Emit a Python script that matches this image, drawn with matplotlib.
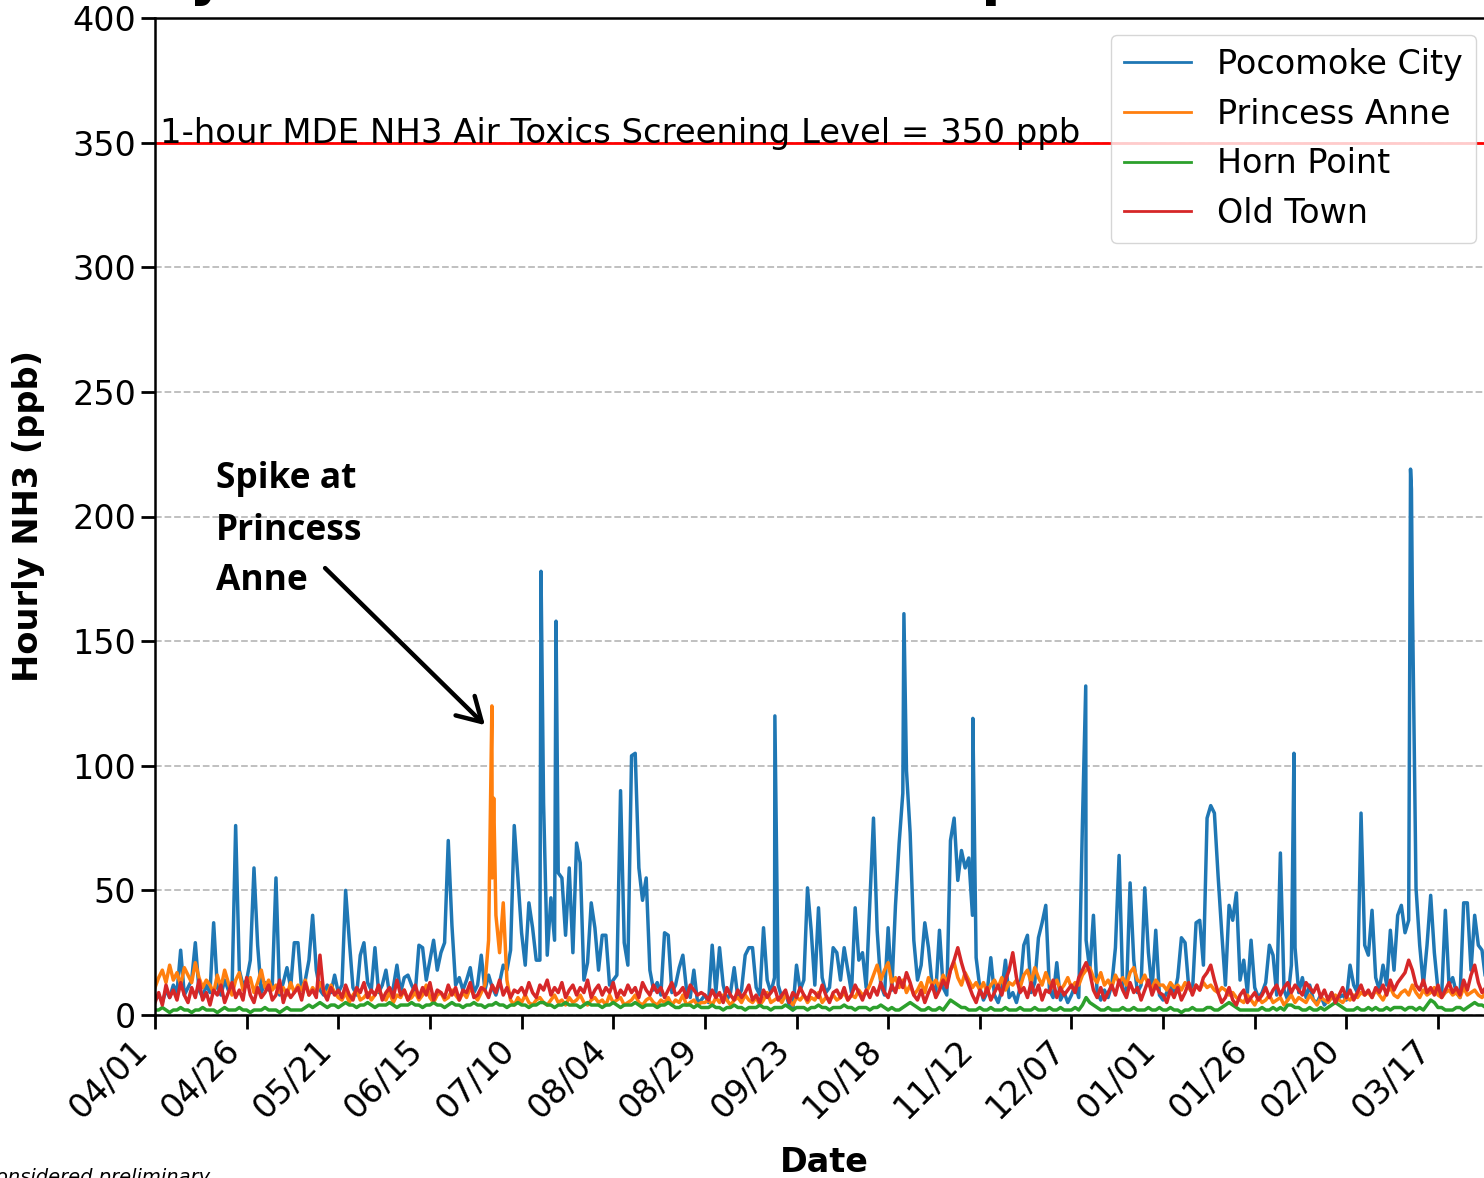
import numpy as np
import matplotlib
matplotlib.use("Agg")
import matplotlib.pyplot as plt

# ---- data: hourly NH3 (ppb), one value per day starting 04/01 ----
date_labels = ["04/01", "04/26", "05/21", "06/15", "07/10", "08/04", "08/29",
               "09/23", "10/18", "11/12", "12/07", "01/01", "01/26", "02/20", "03/17"]
yticks = [0, 50, 100, 150, 200, 250, 300, 350, 400]
screening_level = 350

pocomoke_daily = [
    6, 8, 5, 10, 7, 12, 9, 26, 8, 11, 14, 29, 10, 7, 12, 9, 37, 11, 8, 14, 10, 9, 76, 18, 12,
    14, 22, 59, 28, 9, 13, 10, 12, 55, 8, 13, 19, 11, 29, 29, 10, 14, 22, 40, 18, 10, 8, 12, 9, 16,
    9, 12, 50, 30, 11, 8, 24, 29, 13, 10, 27, 9, 12, 18, 8, 11, 20, 9, 15, 16, 12, 9, 28, 27, 14,
    22, 30, 18, 25, 29, 70, 36, 12, 15, 10, 14, 19, 9, 12, 24, 10, 16, 11, 8, 13, 20, 18, 26, 76, 55,
    33, 20, 45, 35, 22, 22, 85, 24, 47, 30, 57, 55, 32, 59, 25, 69, 61, 14, 21, 45, 35, 18, 32, 32, 12,
    14, 16, 90, 29, 20, 104, 105, 59, 46, 55, 18, 10, 13, 8, 33, 32, 9, 12, 19, 24, 10, 7, 18, 5, 6,
    8, 5, 28, 9, 27, 12, 6, 9, 19, 7, 10, 24, 27, 27, 11, 8, 35, 14, 9, 15, 12, 7, 9, 4, 2,
    20, 10, 14, 51, 34, 12, 43, 15, 9, 11, 27, 25, 14, 27, 18, 9, 43, 22, 25, 11, 45, 79, 34, 12, 8,
    35, 10, 44, 69, 89, 98, 73, 30, 14, 20, 37, 27, 12, 9, 34, 11, 8, 70, 79, 54, 66, 59, 63, 40, 23,
    11, 6, 9, 23, 8, 5, 10, 22, 7, 9, 5, 11, 28, 32, 9, 13, 31, 37, 44, 10, 7, 21, 6, 9, 5,
    8, 12, 7, 77, 30, 18, 40, 9, 6, 10, 7, 12, 27, 64, 11, 8, 53, 22, 9, 12, 51, 25, 10, 34, 8,
    6, 9, 12, 8, 15, 31, 29, 11, 9, 37, 38, 20, 79, 84, 81, 56, 33, 12, 44, 38, 49, 14, 22, 9, 30,
    11, 7, 9, 13, 28, 24, 8, 65, 10, 6, 20, 27, 9, 15, 7, 12, 6, 5, 8, 4, 6, 9, 5, 7, 8,
    6, 20, 12, 9, 81, 28, 24, 42, 15, 10, 20, 12, 34, 18, 40, 44, 33, 38, 168, 51, 28, 12, 28, 48, 25,
    10, 8, 42, 12, 15, 9, 7, 45, 45, 18, 40, 28, 26, 14, 20,
]
# short single-hour peaks (day offset, ppb)
pocomoke_peak_day = [105.3, 109.4, 169.1, 204.3, 223.1, 253.9, 310.7, 342.5, 342.75]
pocomoke_peak_ppb = [178, 158, 120, 161, 119, 132, 105, 219, 211]

princess_anne_daily = [
    11, 15, 18, 13, 20, 14, 17, 12, 19, 16, 13, 21, 15, 11, 14,
    12, 9, 16, 11, 18, 13, 8, 14, 17, 10, 12, 15, 9, 13, 18, 11, 14, 10, 12, 9,
    11, 8, 13, 9, 12, 10, 14, 8, 11, 9, 13, 10, 8, 12, 9,
    7, 6, 9, 5, 8, 10, 6, 7, 9, 6, 8, 11, 7, 6, 9, 5, 8, 7, 10, 6,
    7, 9, 6, 8, 12, 7, 5, 8, 9, 6, 7, 10, 8, 6, 9, 7, 11, 8, 6, 9,
    12, 30, 55, 40, 25, 45, 14,
    6, 4, 7, 5, 8, 5, 4, 6, 7, 5, 4, 6, 8, 5, 6, 4, 7, 5, 6, 8,
    5, 4, 6, 7, 5, 6, 4, 8, 5, 6, 7, 4, 5, 6, 8, 5, 4, 6, 7, 5,
    4, 6, 5, 7, 4, 6, 5, 8, 4, 5, 6, 4, 5,
    5, 6, 4, 7, 5, 8, 6, 4, 6, 7, 5, 8, 6, 5, 7, 4, 6, 9, 5, 6,
    7, 5, 8, 6, 4, 7, 6, 8, 5, 7, 6, 9, 5, 7, 6, 8, 6, 7, 9, 6, 8, 7, 10, 8, 9,
    12, 16, 20, 14, 18, 21, 13, 15, 11, 14, 9, 12, 8, 10, 13, 9, 15, 12, 14, 11,
    16, 13, 18, 21, 15, 12, 17, 14, 11, 13, 10, 13, 9, 12, 14, 11, 15, 10, 13, 12,
    14, 11, 16, 18, 13, 19, 15, 12, 17, 13, 11, 14, 10, 12, 15, 11, 13, 12, 16, 18,
    19, 15, 13, 17, 12, 14, 11, 16, 13, 15, 12, 17, 19, 14, 13, 16, 12, 11, 14, 12,
    12, 10, 13, 11, 12, 10, 13, 11, 9, 12, 10, 13, 11, 12, 10, 9, 11, 10, 8, 9,
    7, 6, 5, 8, 6, 4, 7, 5, 6, 8, 5, 6, 7, 4, 6, 8, 5, 7, 6, 5,
    8, 6, 4, 7, 6, 5, 7, 8, 6, 5, 7, 6, 8, 7, 9,
    8, 9, 7, 10, 8, 6, 9, 11, 8, 7, 9, 10, 8, 12, 9, 7, 10, 8, 9, 11,
    8, 7, 9, 10, 8, 9, 7, 11, 8, 9, 10, 8, 7, 9, 8,
]
princess_anne_peak_day = [91.9, 92.4]
princess_anne_peak_ppb = [124, 87]

horn_point_daily = [
    2, 2, 3, 2, 1, 2, 2, 3, 2, 2, 1, 2, 2, 3, 2, 2, 2, 1, 2, 3,
    2, 2, 2, 3, 2, 2, 1, 2, 2, 2, 3, 2, 2, 2, 1, 2, 3, 2, 2, 2, 2, 3,
    4, 3, 4, 5, 4, 3, 4, 4, 3, 4, 5, 4, 4, 3, 4, 4, 5, 4, 3, 4,
    4, 4, 5, 4, 3, 4, 4, 4, 5, 4, 4, 3, 4, 4, 5, 4, 4, 3, 4, 5,
    4, 4, 3, 4, 4, 5, 4, 4, 3, 4, 4, 5, 4,
    4, 3, 4, 4, 5, 4, 4, 3, 4, 4, 5, 5, 4, 4, 3, 4, 4, 5, 4, 4,
    4, 3, 4, 5, 4, 4, 4, 3, 4, 4, 5, 4, 3, 4, 4, 4, 5, 4, 3, 4,
    4, 4, 3, 4, 4, 5, 4, 3, 3, 4, 4, 4, 3, 4, 3,
    3, 3, 4, 3, 3, 2, 3, 3, 4, 3, 3, 2, 3, 3, 3, 4, 3, 3, 2, 3,
    3, 3, 4, 3, 2, 3, 3, 3, 2, 3, 3, 4, 3, 3, 2, 3, 3, 3, 4, 3,
    3, 2, 3, 3, 3, 2, 3, 3, 4, 3,
    2, 3, 2, 2, 3, 4, 5, 4, 3, 2, 2, 3, 2, 2, 3, 2, 4, 6, 5, 4, 3, 3, 2, 2,
    2, 3, 2, 2, 3, 2, 2, 2, 3, 2, 2, 2, 3, 2, 2, 2, 3, 2, 2, 2,
    3, 2, 2, 3, 2, 2, 2, 3, 2, 4,
    7, 5, 4, 3, 2, 2, 3, 2, 2, 2, 3, 2, 2, 3, 2, 2, 2, 3, 2, 2, 3,
    2, 2, 3, 2, 2, 1, 2, 2, 3, 2, 2, 2, 3, 3, 2, 2, 3,
    4, 5, 4, 3, 2, 2, 2, 2,
    2, 2, 3, 2, 2, 3, 2, 3, 2, 4, 4, 3, 3, 2, 2, 3, 2, 2, 3, 2,
    3, 4, 5, 4, 3, 2, 2, 2, 3, 2, 2, 3, 2, 3, 2, 2, 3, 2, 3, 3,
    3, 2, 3, 3, 2, 3, 2, 4, 6, 5, 3, 3, 2, 2, 2, 3, 3, 2, 3, 4, 5, 4, 4, 3, 3,
]

old_town_daily = [
    5, 9, 4, 12, 7, 10, 6, 13, 8, 5, 11, 7, 14, 6, 9, 4, 10, 8, 12, 5,
    9, 13, 7, 10, 6, 15, 8, 5, 11, 7, 9, 12, 6, 8, 14, 5, 10, 7, 9, 11,
    6, 13, 8, 10, 7, 24, 9, 6, 11, 8,
    10, 7, 12, 8, 6, 11, 9, 13, 7, 10, 8, 12, 6, 9, 11, 7, 14, 8, 10, 6,
    9, 12, 7, 11, 8, 13, 6, 10, 9, 7, 12, 8, 11, 6, 10, 9, 13, 7, 8, 11,
    10, 7, 12, 9, 14, 8, 11, 7, 10, 9,
    11, 8, 13, 9, 7, 12, 10, 14, 8, 11, 9, 13, 7, 10, 12, 8, 11, 9, 14, 7,
    10, 12, 8, 11, 9, 13, 7, 10, 8, 12, 9, 11, 7, 13, 10, 8, 12, 9, 11, 7,
    10, 13, 8, 9, 11, 7, 12, 10, 8, 9,
    8, 6, 10, 7, 9, 5, 11, 8, 6, 10, 7, 9, 12, 6, 8, 5, 10, 7, 9, 11,
    6, 8, 10, 5, 9, 7, 11, 8, 6, 10, 9, 7, 12, 8, 5, 9, 10, 7, 11, 6,
    8, 12, 9, 6, 10, 7, 11, 8, 13, 9,
    7, 12, 9, 15, 11, 17, 13, 8, 6, 10, 5, 9, 12, 7, 10, 14, 11, 18, 22, 27,
    21, 16, 12, 8, 5, 10, 7, 11, 6, 9, 12, 8, 14, 18, 25, 15, 9, 11, 7, 13,
    8, 12, 6, 10, 9, 14, 7, 11, 8, 10, 12, 9, 15, 18, 21, 17, 10, 7, 11, 6,
    9, 12, 8, 14, 10, 7, 13, 9, 11, 6, 10, 14, 8, 12, 9,
    8, 5, 10, 7, 11, 6, 9, 13, 8, 12, 10, 15, 17, 20, 14,
    9, 5, 7, 11, 6, 4, 8, 10, 5, 7, 9, 6, 8, 11, 7,
    10, 12, 8, 11, 13, 9, 12, 10, 8, 13, 11, 9, 12, 7, 10,
    6, 9, 5, 8, 11, 7, 10, 6, 9, 12, 8, 10, 7, 11, 9,
    12, 8, 14, 10, 13, 15, 17, 22, 18, 12, 10, 14, 9, 11, 8,
    12, 7, 10, 13, 9, 11, 8, 14, 10, 16, 20, 13, 9, 11, 10,
]

series = [
    ("Pocomoke City", pocomoke_daily, pocomoke_peak_day, pocomoke_peak_ppb, "#1f77b4"),
    ("Princess Anne", princess_anne_daily, princess_anne_peak_day, princess_anne_peak_ppb, "#ff7f0e"),
    ("Horn Point", horn_point_daily, [], [], "#2ca02c"),
    ("Old Town", old_town_daily, [], [], "#d62728"),
]


def timeline(daily, peak_day, peak_ppb):
    t = np.concatenate([np.arange(len(daily), dtype=float), np.asarray(peak_day, dtype=float)])
    v = np.concatenate([np.asarray(daily, dtype=float), np.asarray(peak_ppb, dtype=float)])
    order = np.argsort(t, kind="stable")
    return t[order], v[order]


W, H = 1484, 1178
fig = plt.figure(figsize=(W / 100, H / 100), dpi=100)
ax = fig.add_axes([155 / W, 1 - 1015 / H, 1338 / W, 997 / H])

for name, daily, pday, pppb, color in series:
    t, v = timeline(daily, pday, pppb)
    ax.plot(t, v, color=color, lw=2.5, label=name)

ax.axhline(screening_level, color="red", lw=2.0, zorder=1.5)
ax.text(1.4, screening_level, "1-hour MDE NH3 Air Toxics Screening Level = 350 ppb",
        fontsize=24.4, va="baseline", ha="left")

ax.set_xlim(0, 365)
ax.set_ylim(0, 400)
ax.set_xticks(np.arange(len(date_labels)) * 25)
ax.set_xticklabels(date_labels, rotation=45, ha="right")
ax.set_yticks(yticks)
ax.tick_params(axis="both", labelsize=24, length=10, width=2)
ax.yaxis.grid(True, linestyle="--", color="#bbbbbb", lw=1.3)
ax.set_axisbelow(True)
for s in ax.spines.values():
    s.set_linewidth(1.8)

ax.set_ylabel("Hourly NH3 (ppb)", fontsize=24.2, fontweight="bold")
ax.yaxis.set_label_coords(-0.0822, 0.5)
ax.set_xlabel("Date", fontsize=24, fontweight="bold")
ax.xaxis.set_label_coords(0.5, -0.131)

leg = ax.legend(loc="upper right", fontsize=24, framealpha=0.8, edgecolor="0.8",
                handlelength=2.0, labelspacing=0.5, borderaxespad=0.5)
for h in leg.get_lines():
    h.set_linewidth(2.0)

# callout for the Princess Anne spike
callout_lines = ["Spike at", "Princess", "Anne"]
callout_base = [211.4, 190.5, 170.5]
for line, yb in zip(callout_lines, callout_base):
    ax.text(16.6, yb, line, fontsize=25.5, fontweight="bold", family="Open Sans",
            va="baseline", ha="left")
ax.annotate("", xy=(90.0, 116.3), xytext=(46.4, 179.3),
            arrowprops=dict(arrowstyle="->,head_length=0.6,head_width=0.35",
                            lw=3.2, color="black", shrinkA=0, shrinkB=0,
                            mutation_scale=28))

fig.text(0.013, 1.005, "Hourly NH3 Concentrations \u2013 April 2021 to March 2022",
         fontsize=40, fontweight="bold", va="baseline", ha="left")
fig.text(210 / W, -0.004, "Data should be considered preliminary",
         fontsize=14, style="italic", va="baseline", ha="right")

fig.savefig("out.png", dpi=100)
